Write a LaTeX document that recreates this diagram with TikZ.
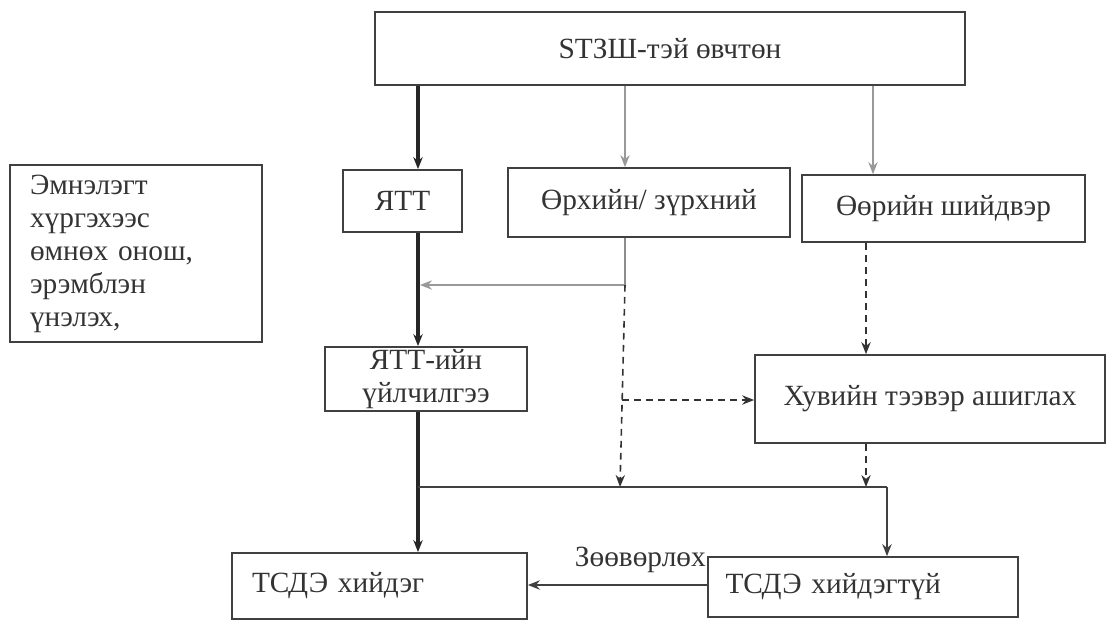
\documentclass[tikz,border=0pt]{standalone}
\usepackage{fontspec}
\setmainfont{Liberation Serif}
\usetikzlibrary{arrows.meta}
\begin{document}
\begin{tikzpicture}[x=0.75pt,y=-0.75pt,
  box/.style={draw=black!75,line width=1.3pt,inner sep=0pt,font=\fontsize{22}{24.75}\selectfont,text=black!80},
  thick arrow/.style={draw=black!85,line width=2.5pt,-{Stealth[length=9pt,width=7pt]}},
  thin arrow/.style={draw=black!40,line width=1pt,-{Stealth[length=9pt,width=7pt]}},
  dash arrow/.style={draw=black!80,line width=1.2pt,dashed,dash pattern=on 5pt off 4pt,-{Stealth[length=9pt,width=7pt]}},
  plain line/.style={draw=black!75,line width=1.3pt}]
\useasboundingbox (0,0) rectangle (1112,629);
% boxes
\node[box,minimum width=590*0.75pt,minimum height=73*0.75pt] (top) at (670,48.5) {STЗШ-тэй өвчтөн};
\node[box,minimum width=252*0.75pt,minimum height=177*0.75pt,align=left,text width=212*0.75pt,inner xsep=15pt] (left) at (136,253.5) {Эмнэлэгт\\хүргэхээс\\өмнөх онош,\\эрэмблэн\\үнэлэх,};
\node[box,minimum width=119*0.75pt,minimum height=62*0.75pt] (ytt) at (402.5,201) {ЯТТ};
\node[box,minimum width=282*0.75pt,minimum height=69*0.75pt] (orh) at (649,202.5) {Өрхийн/ зүрхний};
\node[box,minimum width=283*0.75pt,minimum height=67*0.75pt] (oor) at (943.5,208.5) {Өөрийн шийдвэр};
\node[box,minimum width=202*0.75pt,minimum height=64*0.75pt,align=center] (yttu) at (426,379) {ЯТТ-ийн\\үйлчилгээ};
\node[box,minimum width=350*0.75pt,minimum height=88*0.75pt] (huv) at (930,399) {\raisebox{6pt}{Хувийн тээвэр ашиглах}};
\node[box,minimum width=295*0.75pt,minimum height=66*0.75pt,text width=255*0.75pt,align=left] (tsh) at (379.5,586) {ТСДЭ хийдэг};
\node[box,minimum width=310*0.75pt,minimum height=60*0.75pt,text width=275*0.75pt,align=left] (tsg) at (863,587) {ТСДЭ хийдэгтүй};
% coordinates
\coordinate (j1) at (625,285);
\coordinate (j2) at (622,400);
\coordinate (j3) at (620,487);
\coordinate (h1) at (418,487);
\coordinate (h2) at (887,487);
\coordinate (h3) at (866,487);
% connectors
\draw[thick arrow] (top.south -| 418,0) -- (ytt.north -| 418,0);
\draw[thin arrow] (top.south -| 625,0) -- (orh.north -| 625,0);
\draw[thin arrow] (top.south -| 873,0) -- (oor.north -| 873,0);
\draw[thick arrow] (ytt.south -| 418,0) -- (yttu.north -| 418,0);
\draw[draw=black!45,line width=1pt] (orh.south -| 625,0) -- (j1);
\draw[thin arrow] (j1) -- (j1 -| 420,0);
\draw[dash arrow] (j1) -- (j3);
\draw[dash arrow] (j2) -- (j2 -| huv.west);
\draw[dash arrow] (oor.south -| 866,0) -- (huv.north -| 866,0);
\draw[dash arrow] (huv.south -| 866,0) -- (h3);
\draw[thick arrow] (yttu.south -| 418,0) -- (tsh.north -| 418,0);
\draw[plain line] (h1) -- (h2);
\draw[draw=black!75,line width=1.3pt,-{Stealth[length=9pt,width=7pt]}] (h2) -- (tsg.north -| h2);
\draw[draw=black!75,line width=1.3pt,-{Stealth[length=9pt,width=7pt]}] (tsg.west |- 0,585) -- (tsh.east |- 0,585);
\node[font=\fontsize{22}{24}\selectfont,text=black!80,anchor=south east,inner sep=0pt] (lbl) at (706,573) {Зөөвөрлөх};
\end{tikzpicture}
\end{document}
